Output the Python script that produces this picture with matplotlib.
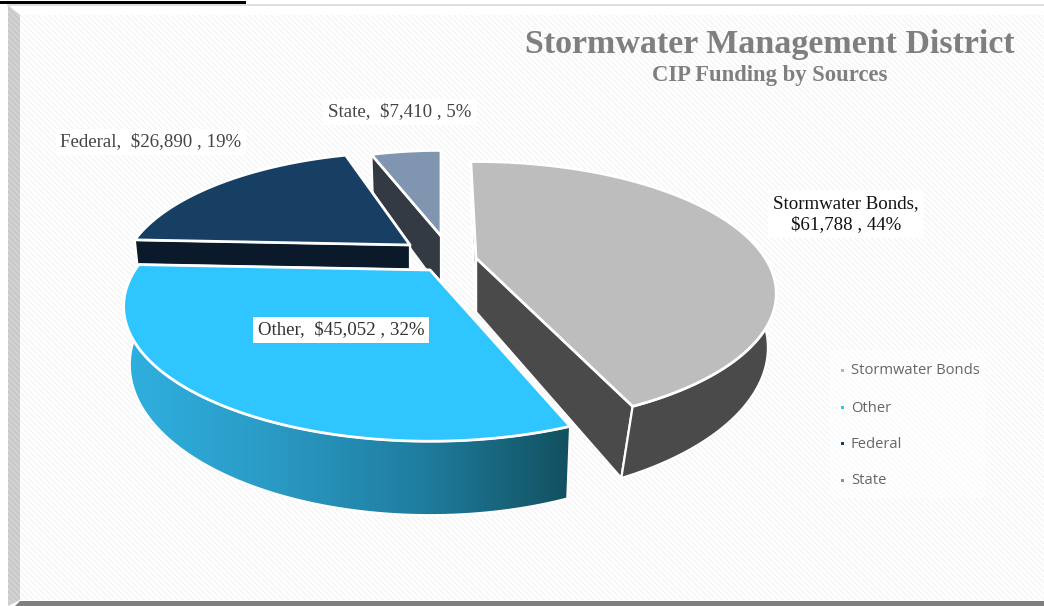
import matplotlib
matplotlib.use('Agg')
import matplotlib.pyplot as plt
import numpy as np
from matplotlib.colors import LinearSegmentedColormap
from matplotlib.patches import Polygon, Rectangle

names = ['Stormwater Bonds', 'Other', 'Federal', 'State']
amounts = [61788, 45052, 26890, 7410]
percents = [44, 32, 19, 5]

top_colors = ['#bdbdbd', '#2fc6ff', '#173f63', '#8095b0']
wall_colors = ['#4a4a4a', '#2fa8d5', '#0a1a2a', '#333a44']
legend_colors = ['#b5b5b5', '#2fc6ff', '#173f63', '#8095b0']

# pixel layout of the exploded slices
apex = [(476, 258), (430, 270), (410, 245), (441, 236)]
scale = [0.98, 1.0, 0.945, 0.87]
# the renderer pulls each exploded slice in a little at its ends (degrees)
trim_start = [-1.3, 1.6, 0.0, -1.0]
trim_end = [-1.7, 0.0, 2.0, 0.0]
lean = [9, 0, 0, 0]
R, A, B, D = 295, 125, 0.27, 54

edges = np.concatenate([[0], np.cumsum(amounts)]) / np.sum(amounts) * 2 * np.pi


def top_point(i, th):
    s = scale[i]
    w = 1 + B * np.cos(th)
    return apex[i][0] + s * R * np.sin(th) / w, apex[i][1] - s * A * np.cos(th) / w


def low_point(i, th):
    x, y = top_point(i, th)
    w = 1 + B * np.cos(th)
    return apex[i][0] + (x - apex[i][0]) * 0.98 - lean[i] * max(0, -np.cos(th)), y + D / w


fig = plt.figure(figsize=(10.44, 6.06), dpi=100)
ax = fig.add_axes([0, 0, 1, 1])
ax.set_xlim(0, 1044)
ax.set_ylim(606, 0)
ax.axis('off')

# panel
plt.rcParams['hatch.linewidth'] = 0.8
ax.add_patch(Rectangle((8, 5), 1036, 601, fc='#ffffff', ec='none', zorder=0))
ax.add_patch(Rectangle((20, 15), 1024, 585, fc='#ffffff', ec='#f3f3f3', hatch='\\\\\\\\\\\\', lw=0, zorder=0.5))
ax.add_patch(Polygon([(8, 5), (20, 15), (20, 600), (8, 606)], fc='#d2d2d2', ec='#c4c4c4', hatch='\\\\\\\\\\\\', lw=0, zorder=1))
ax.add_patch(Polygon([(15, 606), (20, 601), (1044, 601), (1044, 606)], fc='#7f7f7f', ec='none', zorder=1))
ax.plot([8, 1044], [4.5, 4.5], color='#d8d8d8', lw=1.2, zorder=1)
ax.add_patch(Rectangle((0, 1), 246, 3, fc='black', ec='none', zorder=2))

z = 3
for i in [3, 2, 0, 1]:
    t0 = edges[i] + np.radians(trim_start[i])
    t1 = edges[i + 1] + np.radians(trim_end[i])
    arc = np.linspace(t0, t1, 120)
    top_arc = np.array([top_point(i, t) for t in arc])
    low_arc = np.array([low_point(i, t) for t in arc])
    low_apex = (apex[i][0], apex[i][1] + D)

    # radial walls
    for th in [t1, t0]:
        wall = [apex[i], top_point(i, th), low_point(i, th), low_apex]
        ax.add_patch(Polygon(wall, fc=wall_colors[i], ec='white', lw=1.6, joinstyle='round', zorder=z))
        z += 1

    # outer wall only on the part facing the viewer
    front = np.cos(arc) < 0
    outer = np.vstack([top_arc[front], low_arc[front][::-1]])
    if i == 1:
        # Other has a left to right shade
        poly = Polygon(outer, fc='none', ec='none', zorder=z)
        ax.add_patch(poly)
        cmap = LinearSegmentedColormap.from_list('wall', ['#2fb0e0', '#2a9ac4', '#1f7d9f', '#12505f'])
        im = ax.imshow(np.linspace(0, 1, 256)[None, :], cmap=cmap, aspect='auto',
                       extent=(outer[:, 0].min(), outer[:, 0].max(), 520, 260), zorder=z)
        im.set_clip_path(poly)
        ax.set_xlim(0, 1044)
        ax.set_ylim(606, 0)
        ax.add_patch(Polygon(outer, fc='none', ec='white', lw=1.6, zorder=z + 0.5))
    elif front.any():
        ax.add_patch(Polygon(outer, fc=wall_colors[i], ec='white', lw=1.6, zorder=z))
    z += 1

    # top face
    face = np.vstack([[apex[i]], top_arc])
    ax.add_patch(Polygon(face, fc=top_colors[i], ec='white', lw=2, joinstyle='round', zorder=z))
    z += 1

# data labels
label_text = [f'{names[0]},\n${amounts[0]:,} , {percents[0]}%']
label_text += [f'{n},  ${a:,} , {p}%' for n, a, p in zip(names[1:], amounts[1:], percents[1:])]
label_pos = [(846, 214), (341, 330), (151, 142), (400, 112)]
label_color = ['#111111', '#333333', '#444444', '#444444']
for s, pos, c in zip(label_text, label_pos, label_color):
    ax.text(pos[0], pos[1], s, ha='center', va='center', family='Liberation Serif', fontsize=13.6,
            color=c, linespacing=1.25, zorder=50,
            bbox=dict(fc='white', ec='none', pad=3.5))

# titles
ax.text(770, 44, 'Stormwater Management District', ha='center', va='center', family='Liberation Serif',
        fontweight='bold', fontsize=24.5, color='#7f7f7f', zorder=50)
ax.text(770, 75, 'CIP Funding by Sources', ha='center', va='center', family='Liberation Serif',
        fontweight='bold', fontsize=16.3, color='#7f7f7f', zorder=50)

# legend
ax.add_patch(Rectangle((830, 350), 155, 148, fc='white', ec='none', alpha=0.6, zorder=50))
legend_y = [371, 408, 444, 481]
for n, c, y in zip(names, legend_colors, legend_y):
    ax.add_patch(Rectangle((840.5, y - 2.5), 3, 3, fc=c, ec='none', zorder=51))
    ax.text(851, y, n, ha='left', va='center', family='Open Sans', fontsize=10.6, color='#666666', zorder=51)

fig.savefig('out.png', dpi=100)
